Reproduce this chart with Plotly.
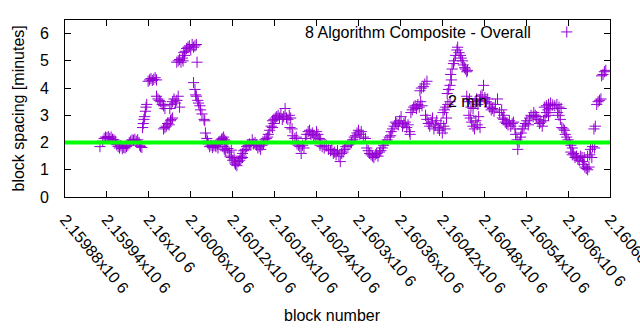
import plotly.graph_objects as go

# ---------------- data ----------------
BLOCK_BASE = 2159880
block_offsets = [
    50, 54, 56, 58, 60, 62, 64, 66, 68, 70, 72,
    74, 76, 78, 80, 82, 84, 86, 88, 90,
    92, 94, 96, 98, 100, 102, 104, 106,
    107, 108, 110,
    111, 112, 113, 114, 115, 116, 117,
    119, 121, 123, 125, 127, 129, 131,
    131, 133, 135, 137, 139, 141, 143,
    141, 143, 145, 147, 149, 151, 152, 154,
    150, 152, 154, 156, 158, 160, 162, 164,
    160, 162, 164, 166, 168, 169, 171,
    170, 172, 174, 176, 178, 180, 182, 184, 186, 188, 189,
    184, 186, 187, 188, 190, 191, 193, 194, 196, 199, 200,
    201, 203, 204,
    205, 207, 209, 211, 213, 215, 216, 218, 219,
    220, 222, 224, 225, 227, 228, 230, 231,
    226, 228, 230, 233, 235, 238,
    236, 238, 240, 242, 243, 244, 246, 248, 250, 252, 254,
    252, 254, 256, 258, 260, 262,
    264, 266, 268, 270, 272, 274, 276, 278, 280, 282, 284,
    286, 288, 290,
    291, 293, 295, 297, 299,
    297, 299, 301, 303, 305, 307, 309, 311, 313, 315, 317, 319, 321, 323,
    322, 325,
    326, 329, 331,
    332, 334, 336, 338, 340, 342,
    344, 346, 348, 350, 352, 354, 356, 358, 360, 362, 364, 366,
    365, 368, 371, 374, 377,
    380, 382, 384, 386, 388, 390, 392, 394, 396, 398, 400,
    402, 405, 408, 410,
    412, 414, 416, 418, 420, 422, 424, 427, 430,
    432, 434, 436, 438, 440, 442, 444, 446, 448, 450, 452,
    454, 456, 458, 461, 464, 466,
    467, 469, 471, 473, 475, 477, 479, 481, 483, 485, 487, 489, 491, 493, 494,
    495, 497, 499, 501, 503, 505, 507, 509, 511,
    508, 510, 513, 515, 518,
    516, 518, 520, 522, 524, 526, 528, 530, 532, 534, 536, 538, 540, 542, 544, 546,
    541, 543, 545, 548, 551,
    547, 549, 551, 553,
    552, 554, 556, 557, 559, 561, 562, 564, 566, 567, 569, 570, 572, 573, 575, 576,
    575, 577, 579, 581, 584,
    578, 580, 582, 584, 586, 588, 590, 592, 594,
    587, 589, 591, 593, 595, 597, 599, 601, 603, 605, 607,
    608, 610, 612, 614, 616, 619, 622, 625, 628,
    626, 628, 630, 632, 634, 636, 638, 640, 642, 644,
    645, 647, 648, 650, 652,
    653, 655, 657, 659, 661, 663, 665, 667, 670,
    671, 673, 675, 677, 679, 681, 683, 685, 687, 689, 691, 692, 694,
    686, 689, 692, 695, 698, 701, 704, 707, 710,
    705, 707, 709, 711, 713, 715,
    716, 718, 720, 722, 724, 726,
    724, 726, 728, 730, 732, 734, 736, 738, 740, 741, 743,
    742, 744, 746, 748, 750,
    748, 751, 754,
    752, 755, 758,
    757, 759,
    761, 763, 765, 767,
    768, 770, 772, 774,
]
spacing_min = [
    1.85, 2.05, 2.15, 2.20, 2.18, 2.22, 2.15, 2.20, 2.12, 2.10, 2.05,
    1.92, 1.85, 1.80, 1.88, 1.78, 1.82, 1.80, 1.85, 1.90,
    2.00, 2.05, 2.10, 2.08, 2.12, 2.05, 2.10, 2.00,
    1.90, 1.85, 1.82,
    2.55, 2.70, 2.85, 2.95, 3.15, 3.30, 3.40,
    4.25, 4.30, 4.35, 4.28, 4.32, 4.38, 4.30,
    3.70, 3.60, 3.55, 3.50, 3.40, 3.35, 3.25,
    2.50, 2.55, 2.60, 2.70, 2.65, 2.80, 2.85, 2.90,
    3.25, 3.40, 3.50, 3.60, 3.45, 3.55, 3.70, 3.30,
    4.95, 5.00, 5.05, 4.95, 5.10, 5.00, 5.20,
    5.30, 5.35, 5.45, 5.50, 5.55, 5.40, 5.60, 5.50, 5.55, 5.60, 4.95,
    4.20, 3.95, 3.75, 3.70, 3.55, 3.45, 3.35, 3.20, 3.05, 2.85, 2.80,
    2.35, 2.15, 2.05,
    1.95, 1.85, 1.90, 1.82, 1.88, 1.90, 1.85, 1.92, 1.80,
    2.00, 2.05, 2.10, 2.15, 2.20, 2.10, 2.05, 2.00,
    1.85, 1.75, 1.70, 1.78, 1.65, 1.72,
    1.50, 1.45, 1.35, 1.40, 1.25, 1.20, 1.15, 1.30, 1.35, 1.42, 1.45,
    1.50, 1.60, 1.70, 1.75, 1.85, 1.90,
    1.95, 1.90, 2.10, 1.95, 2.00, 1.90, 1.80, 1.85, 1.75, 1.90, 1.95,
    2.10, 2.15, 2.20,
    2.30, 2.45, 2.60, 2.55, 2.70,
    2.80, 2.85, 2.90, 2.95, 3.00, 2.90, 3.05, 2.85, 2.95, 3.25, 2.90, 2.85, 3.00, 2.90,
    2.55, 2.50,
    2.25, 2.15, 2.20,
    1.95, 1.90, 1.85, 1.60, 1.90, 1.80,
    2.15, 2.30, 2.40, 2.45, 2.30, 2.35, 2.25, 2.20, 2.40, 2.30, 2.15, 2.10,
    1.90, 1.85, 1.80, 1.88, 1.75,
    1.70, 1.75, 1.60, 1.65, 1.55, 1.70, 1.50, 1.30, 1.60, 1.65, 1.75,
    1.85, 1.90, 1.95, 2.00,
    2.10, 2.20, 2.25, 2.35, 2.45, 2.30, 2.40, 2.20, 2.15,
    1.80, 1.70, 1.60, 1.55, 1.50, 1.45, 1.55, 1.60, 1.50, 1.65, 1.70,
    1.80, 1.90, 2.00, 2.10, 2.20, 2.25,
    2.40, 2.50, 2.60, 2.75, 2.70, 2.65, 2.80, 2.95, 2.60, 2.70, 2.75, 2.55, 2.65, 2.40, 2.30,
    3.10, 3.20, 3.30, 3.35, 3.25, 3.40, 3.30, 3.50, 3.35,
    3.90, 4.00, 4.05, 4.15, 4.25,
    3.00, 2.85, 2.70, 2.60, 2.75, 2.90, 2.50, 2.65, 2.80, 2.55, 2.45, 2.70, 2.35, 2.60, 2.50, 2.90,
    3.10, 3.20, 3.30, 3.40, 3.50,
    3.80, 3.95, 4.10, 4.30,
    4.50, 4.70, 4.90, 5.00, 5.20, 5.40, 5.50, 5.30, 5.20, 5.10, 5.00, 4.85, 4.75, 4.70, 4.60, 4.65,
    3.70, 3.50, 3.60, 3.30, 3.25,
    3.00, 2.90, 2.75, 2.60, 2.50, 2.80, 2.65, 2.95, 2.55,
    3.50, 3.60, 3.40, 3.55, 3.70, 3.75, 4.10, 3.65, 3.50, 3.60, 3.45,
    3.30, 3.20, 3.25, 3.15, 3.40, 3.60, 3.10, 3.20, 3.00,
    2.90, 2.85, 2.75, 2.70, 2.65, 2.80, 2.60, 2.70, 2.75, 2.50,
    2.30, 2.10, 1.75, 2.00, 2.20,
    2.35, 2.50, 2.60, 2.70, 2.80, 2.65, 2.90, 3.00, 2.95,
    3.10, 3.00, 2.95, 2.85, 2.70, 2.75, 2.60, 2.80, 2.95, 3.10, 3.20, 3.00, 3.25,
    3.30, 3.35, 3.40, 3.45, 3.38, 3.35, 3.40, 3.30, 3.25,
    3.10, 3.00, 2.85, 2.55, 2.50, 2.45,
    2.30, 2.20, 2.10, 2.00, 1.90, 1.80,
    1.65, 1.55, 1.60, 1.45, 1.50, 1.40, 1.35, 1.50, 1.45, 1.30, 1.45,
    1.20, 1.10, 1.05, 1.00, 1.10,
    1.50, 1.55, 1.45,
    1.75, 1.85, 1.80,
    2.50, 2.60,
    3.40, 3.50, 3.55, 3.60,
    4.45, 4.50, 4.60, 4.65,
]
blocks = [BLOCK_BASE + d for d in block_offsets]

TARGET_MIN = 2
series_name = "8 Algorithm Composite - Overall"
x_tick_values = [BLOCK_BASE + 60 * i for i in range(14)]
x_tick_labels = ["2.15988x10 6", "2.15994x10 6", "2.16x10 6", "2.16006x10 6",
                 "2.16012x10 6", "2.16018x10 6", "2.16024x10 6", "2.1603x10 6",
                 "2.16036x10 6", "2.16042x10 6", "2.16048x10 6", "2.16054x10 6",
                 "2.1606x10 6", "2.16066x10 6"]
y_tick_values = [0, 1, 2, 3, 4, 5, 6]
X_RANGE = [2159880, 2160660]
Y_RANGE = [0, 6.5]
LABEL_2MIN = (2160425, 3.52)

# ---------------- figure ----------------
FONT = "Liberation Sans, Arial, sans-serif"
VIOLET = "#9400d3"

fig = go.Figure()
fig.add_trace(go.Scatter(
    x=blocks, y=spacing_min, mode="markers", name=" ",
    marker=dict(symbol="cross-thin", size=8, color=VIOLET,
                line=dict(color=VIOLET, width=1)),
    showlegend=True,
))

fig.add_shape(type="line", xref="paper", x0=0, x1=1, yref="y",
              y0=TARGET_MIN, y1=TARGET_MIN,
              line=dict(color="#00ff00", width=4), layer="above")

fig.add_annotation(x=LABEL_2MIN[0], y=LABEL_2MIN[1], text="2 min",
                   showarrow=False, xanchor="left", yanchor="middle",
                   font=dict(family=FONT, size=16, color="#000"))
fig.add_annotation(xref="paper", yref="paper", x=0.8587, y=0.932,
                   text=series_name, showarrow=False, xanchor="right",
                   yanchor="middle", font=dict(family=FONT, size=16, color="#000"))
fig.add_annotation(xref="paper", yref="paper", x=0.4917, y=-0.668,
                   text="block number", showarrow=False, xanchor="center",
                   yanchor="middle", font=dict(family=FONT, size=16, color="#000"))
fig.add_annotation(xref="paper", yref="paper", x=-0.0862, y=0.50,
                   text="block spacing [minutes]", showarrow=False, textangle=-90,
                   xanchor="center", yanchor="middle",
                   font=dict(family=FONT, size=16, color="#000"))

fig.update_layout(
    width=640, height=330,
    margin=dict(l=65, r=30, t=20, b=132.5, pad=0, autoexpand=False),
    paper_bgcolor="white", plot_bgcolor="white",
    font=dict(family=FONT, size=16, color="#000"),
    showlegend=True,
    legend=dict(x=0.884, y=0.932, xanchor="left", yanchor="middle",
                bgcolor="rgba(0,0,0,0)", borderwidth=0,
                font=dict(family=FONT, size=16)),
)
fig.update_xaxes(
    range=X_RANGE, tickmode="array", tickvals=x_tick_values, ticktext=x_tick_labels,
    tickangle=50, ticks="inside", ticklen=6, tickcolor="#000",
    showline=True, linecolor="#000", linewidth=1, mirror="ticks",
    showgrid=False, zeroline=False, ticklabelstandoff=6,
    ticklabeloverflow="allow", automargin=False,
    tickfont=dict(family=FONT, size=16, color="#000"),
)
fig.update_yaxes(
    range=Y_RANGE, tickmode="array", tickvals=y_tick_values,
    ticks="inside", ticklen=6, tickcolor="#000",
    showline=True, linecolor="#000", linewidth=1, mirror="ticks",
    showgrid=False, zeroline=False, ticklabelstandoff=12, automargin=False,
    tickfont=dict(family=FONT, size=16, color="#000"),
)

fig.write_html("out.html")
